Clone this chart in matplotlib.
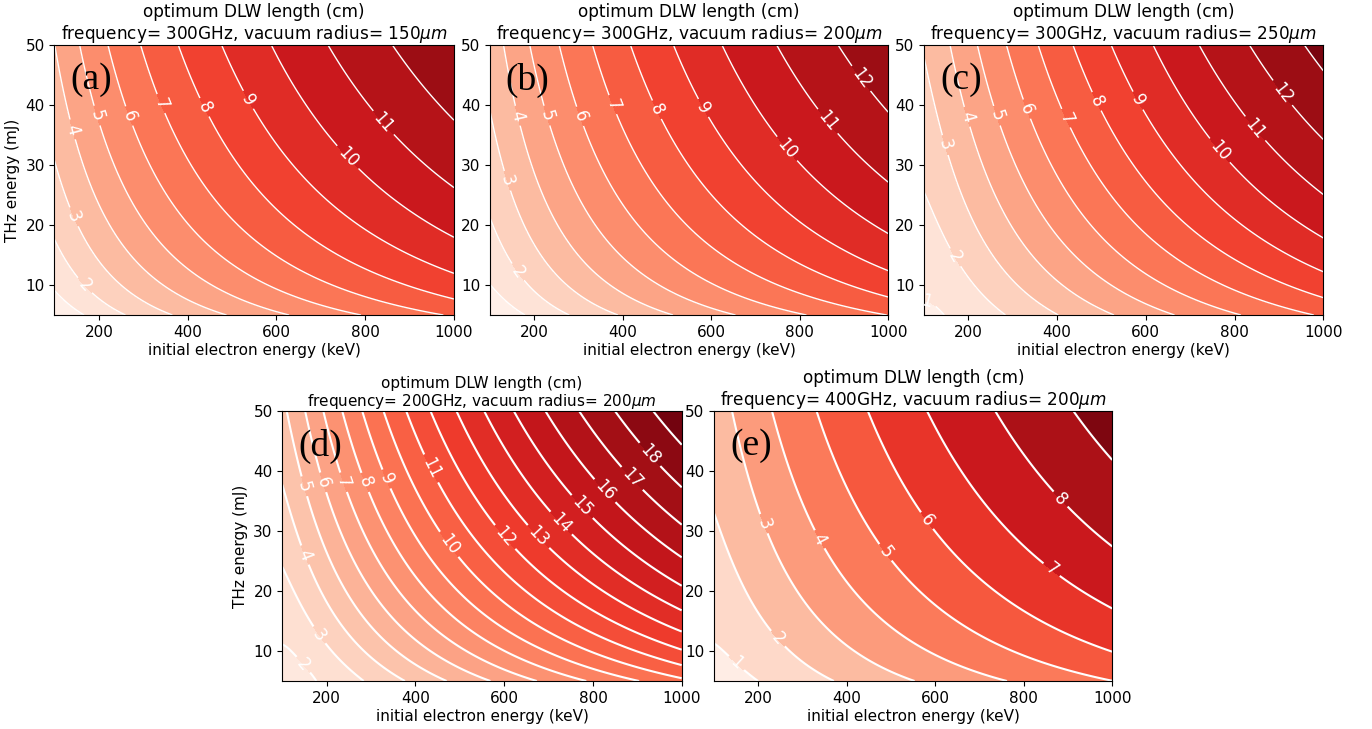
import numpy as np
import matplotlib.pyplot as plt

# readings: electron energy (keV), THz energy (mJ), DLW length (cm)
# points where the contour lines cross the frame
a_E = [101, 158, 217, 286, 367, 460, 576, 745, 100, 100, 100, 237, 386, 515, 652, 804, 946, 1000, 1000, 1000, 1000]
a_U = [50, 50, 50, 50, 50, 50, 50, 50, 49.5, 31.7, 16.4, 5, 5, 5, 5, 5, 5, 7.0, 11.4, 17.5, 28.0]
a_L = [4, 5, 6, 7, 8, 9, 10, 11, 4, 3, 2, 2, 3, 4, 5, 6, 7, 8, 9, 10, 11]
# points where the inline labels sit
a_lab_E = [165, 152, 150, 199, 273, 342, 432, 528, 758, 856]
a_lab_U = [9.7, 21.6, 36.1, 38.3, 38.3, 40.3, 39.4, 40.5, 31.1, 38.0]
a_lab_L = [2, 3, 4, 5, 6, 7, 8, 9, 10, 11]

b_E = [129, 190, 258, 329, 406, 496, 612, 740, 910, 100, 100, 258, 400, 540, 670, 815, 965, 1000, 1000, 1000, 1000, 1000]
b_U = [50, 50, 50, 50, 50, 50, 50, 50, 50, 38.7, 20.2, 5, 5, 5, 5, 5, 5, 8.0, 12.4, 18.0, 26.7, 41.1]
b_L = [4, 5, 6, 7, 8, 9, 10, 11, 12, 3, 2, 2, 3, 4, 5, 6, 7, 8, 9, 10, 11, 12]
b_lab_E = [164, 145, 168, 232, 311, 386, 477, 575, 763, 857, 955]
b_lab_U = [12.2, 27.5, 38.3, 38.3, 38.3, 40.3, 39.2, 39.2, 32.2, 36.9, 45.3]
b_lab_L = [2, 3, 4, 5, 6, 7, 8, 9, 10, 11, 12]

c_E = [155, 219, 286, 358, 434, 519, 609, 711, 839, 978, 100, 100, 100, 128, 280, 402, 535, 670, 812, 975, 1000, 1000, 1000, 1000, 1000]
c_U = [50, 50, 50, 50, 50, 50, 50, 50, 50, 50, 47.8, 25.3, 9.5, 5, 5, 5, 5, 5, 5, 5, 8.0, 12.2, 17.8, 24.4, 34.7]
c_L = [4, 5, 6, 7, 8, 9, 10, 11, 12, 13, 3, 2, 1, 1, 2, 3, 4, 5, 6, 7, 8, 9, 10, 11, 12]
c_lab_E = [106, 166, 147, 200, 268, 335, 429, 489, 579, 763, 842, 906]
c_lab_U = [7.2, 14.4, 33.3, 38.1, 38.3, 39.4, 38.1, 40.6, 40.6, 32.2, 35.8, 41.9]
c_lab_L = [1, 2, 3, 4, 5, 6, 7, 8, 9, 10, 11, 12]

d_E = [110, 147, 189, 234, 283, 335, 388, 441, 497, 553, 614, 681, 756, 862, 993,
       100, 100, 100, 165, 275, 390, 495, 590, 680, 770, 860, 950,
       1000, 1000, 1000, 1000, 1000, 1000, 1000, 1000, 1000]
d_U = [50, 50, 50, 50, 50, 50, 50, 50, 50, 50, 50, 50, 50, 50, 50,
       37.9, 24.0, 11.8, 5, 5, 5, 5, 5, 5, 5, 5, 5,
       37.4, 29.6, 25.2, 20.7, 17.2, 14.2, 11.0, 8.4, 6.2]
d_L = [5, 6, 7, 8, 9, 10, 11, 12, 13, 14, 15, 16, 17, 18, 19,
       4, 3, 2, 2, 3, 4, 5, 6, 7, 8, 9, 10,
       18, 17, 16, 15, 14, 13, 12, 11, 10]
d_lab_E = [147, 178, 151, 147, 196, 241, 290, 339, 478, 429, 594, 673, 715, 763, 812, 880, 932]
d_lab_U = [7.7, 12.4, 26.0, 37.4, 38.2, 38.2, 38.2, 38.8, 27.9, 40.2, 28.5, 28.8, 30.4, 33.2, 35.7, 38.2, 43.0]
d_lab_L = [2, 3, 4, 5, 6, 7, 8, 9, 10, 11, 12, 13, 14, 15, 16, 17, 18]

e_E = [142, 227, 319, 432, 574, 762, 100, 100, 180, 386, 582, 775, 980, 1000, 1000, 1000]
e_U = [50, 50, 50, 50, 50, 50, 34.9, 11.4, 5, 5, 5, 5, 5, 28.3, 16.6, 9.1]
e_L = [3, 4, 5, 6, 7, 8, 2, 1, 1, 2, 3, 4, 5, 8, 7, 6]
e_lab_E = [143, 249, 215, 343, 490, 573, 859, 893]
e_lab_U = [7.4, 12.4, 31.3, 28.8, 26.6, 31.3, 23.2, 36.0]
e_lab_L = [1, 2, 3, 4, 5, 6, 7, 8]

titles = ["frequency= 300GHz, vacuum radius= 150$\\mu m$",
          "frequency= 300GHz, vacuum radius= 200$\\mu m$",
          "frequency= 300GHz, vacuum radius= 250$\\mu m$",
          "frequency= 200GHz, vacuum radius= 200$\\mu m$",
          "frequency= 400GHz, vacuum radius= 200$\\mu m$"]
letters = ["(a)", "(b)", "(c)", "(d)", "(e)"]


def smooth_field(E, U, L, eg, ug):
    # least squares surface through the read-off contour points (quadratic in log E, log U)
    x, y = np.log(E), np.log(U)
    A = np.column_stack([np.ones_like(x), x, y, x * x, x * y, y * y])
    c = np.linalg.lstsq(A, np.asarray(L, float), rcond=None)[0]
    X, Y = np.log(eg), np.log(ug)
    return c[0] + c[1] * X + c[2] * Y + c[3] * X * X + c[4] * X * Y + c[5] * Y * Y


fig = plt.figure(figsize=(13.72, 7.29), dpi=100)
boxes = [[0.0397, 0.5679, 0.2912, 0.3704],
         [0.3571, 0.5679, 0.2903, 0.3704],
         [0.6735, 0.5679, 0.2910, 0.3704],
         [0.2058, 0.0658, 0.2911, 0.3704],
         [0.5206, 0.0658, 0.2901, 0.3704]]
level_sets = [np.arange(0, 15), np.arange(0, 15), np.arange(0, 15), np.arange(0, 21), np.arange(0, 11)]
panels = [(a_E, a_U, a_L, a_lab_E, a_lab_U, a_lab_L),
          (b_E, b_U, b_L, b_lab_E, b_lab_U, b_lab_L),
          (c_E, c_U, c_L, c_lab_E, c_lab_U, c_lab_L),
          (d_E, d_U, d_L, d_lab_E, d_lab_U, d_lab_L),
          (e_E, e_U, e_L, e_lab_E, e_lab_U, e_lab_L)]

eg, ug = np.meshgrid(np.linspace(100, 1000, 300), np.linspace(5, 50, 300))

for i, (E, U, L, lE, lU, lL) in enumerate(panels):
    ax = fig.add_axes(boxes[i])
    Z = smooth_field(np.array(E + lE, float), np.array(U + lU, float), L + lL, eg, ug)
    lv = level_sets[i]
    ax.contourf(eg, ug, Z, levels=lv, cmap="Reds")
    lw = 1.0 if i < 3 else 1.5
    cs = ax.contour(eg, ug, Z, levels=lv, colors="white", linewidths=lw)
    ax.clabel(cs, manual=list(zip(lE, lU)), fmt="%d", fontsize=12, colors="white", inline=True)
    ax.set_xlim(100, 1000)
    ax.set_ylim(5, 50)
    ax.set_xticks([200, 400, 600, 800, 1000])
    ax.set_yticks([10, 20, 30, 40, 50])
    ax.tick_params(labelsize=11)
    ax.set_xlabel("initial electron energy (keV)", fontsize=11, labelpad=2)
    if i in (0, 3):
        ax.set_ylabel("THz energy (mJ)", fontsize=11)
    ax.set_title("optimum DLW length (cm)\n" + titles[i], fontsize=11 if i == 3 else 12.2,
                 pad=3, linespacing=1.1)
    ax.text(0.04, 0.87, letters[i], transform=ax.transAxes, fontsize=27,
            family="Liberation Serif", ha="left", va="center")

fig.savefig("out.png", dpi=100)
